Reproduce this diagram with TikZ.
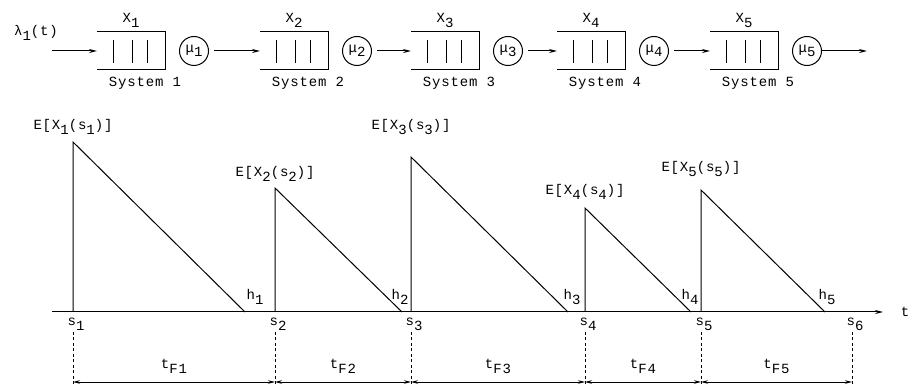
\documentclass[tikz,border=0pt]{standalone}
\usepackage{fontspec}
\setmainfont[LetterSpace=6]{Liberation Mono}
\usetikzlibrary{arrows.meta,positioning}
\newcommand{\dn}[1]{\raisebox{-0.6ex}{#1}}
\tikzset{
  queue/.style={minimum width=67pt, minimum height=37pt, inner sep=0pt},
  server/.style={circle, draw, minimum size=29pt, inner sep=0pt},
  flow/.style={-{Stealth[length=8pt,width=4pt]}, line width=1pt},
  span/.style={{Stealth[length=7pt,width=3.5pt]}-{Stealth[length=7pt,width=3.5pt]}, line width=0.8pt},
  guide/.style={dash pattern=on 3pt off 2.5pt, line width=0.7pt},
}

\begin{document}
\begin{tikzpicture}[x=1pt, y=-1pt, line width=1pt,
    every node/.style={font=\fontsize{14}{16}\selectfont}]
  \useasboundingbox (0,0) rectangle (914,387);

  % tandem of queues (top)
  \foreach \i/\x in {1/97, 2/260, 3/411, 4/557, 5/710} {
    \node[queue, anchor=west] (q\i) at (\x,51) {};
    \draw (q\i.north west) -- (q\i.north east) -- (q\i.south east) -- (q\i.south west);
    \foreach \b in {16,35,50}
      \draw ([xshift=\b pt, yshift=-8pt]q\i.north west) -- ([xshift=\b pt, yshift=7pt]q\i.south west);
    \node[server, right=14pt of q\i] (mu\i) {μ\dn{\i}};
    \node[above=1pt of q\i] (x\i) {X\dn{\i}};
    \node[below=3pt of q\i, xshift=14pt] (sys\i) {System \i};
  }
  \coordinate (in) at (52,51);
  \coordinate (out) at (867,51);
  \node (lam) at (36,33) {λ\dn{1}(t)};
  \draw[flow] (in) -- (q1.west);
  \foreach \i/\j in {1/2, 2/3, 3/4, 4/5}
    \draw[flow, shorten <=5pt] (mu\i) -- (q\j.west);
  \draw[flow] (mu5) -- (out);

  % workload sawtooth (bottom)
  \coordinate (t0) at (52,312);
  \coordinate (tend) at (883,312);
  \draw[flow] (t0) -- (tend) node[right=14pt] (tl) {t};
  \foreach \i/\s/\p/\h/\d/\e in {1/73/142/245/10/130, 2/275/188/402/-2/177,
      3/411/157/568/4/130, 4/585/208/691/-1/195, 5/701/190/825/2/172} {
    \coordinate (s\i) at (\s,312);
    \coordinate (p\i) at (\s,\p);
    \coordinate (h\i) at (\h,312);
    \draw (s\i) -- (p\i) -- (h\i);
    \node[anchor=base] (ex\i) at (\s,\e) {E[X\dn{\i}(s\dn{\i})]};
    \node[anchor=base] (hl\i) at ([xshift=\d pt, yshift=12pt]h\i) {h\dn{\i}};
  }
  \coordinate (s6) at (852,312);

  % fill times
  \foreach \i in {1,...,6} {
    \node[anchor=base] (sl\i) at ([xshift=3pt, yshift=-14pt]s\i) {s\dn{\i}};
    \draw[guide] ([yshift=-20pt]s\i) -- ([yshift=-75pt]s\i);
  }
  \foreach \i/\j in {1/2, 2/3, 3/4, 4/5, 5/6}
    \draw[span] ([yshift=-70pt]s\i) -- node[above=5pt] (tf\i) {t\dn{F\i}} ([yshift=-70pt]s\j);
\end{tikzpicture}
\end{document}
